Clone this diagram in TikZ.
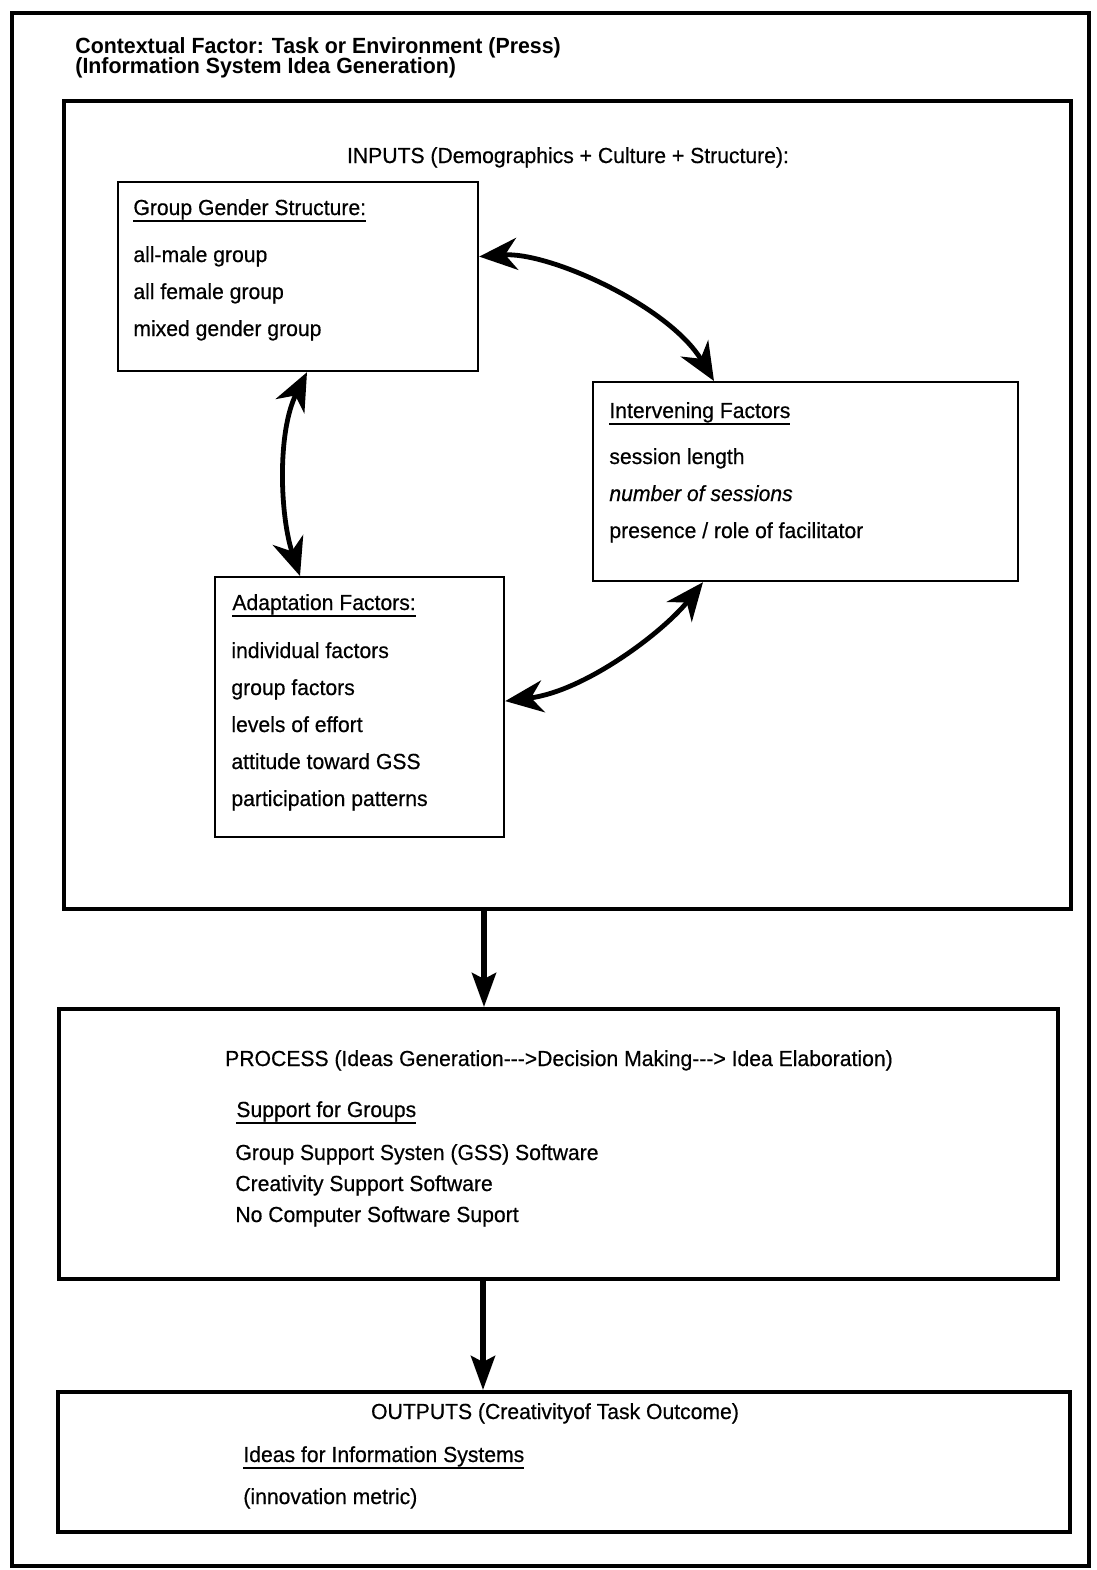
\documentclass[tikz,border=0pt]{standalone}
\usepackage{fontspec}
\setmainfont{Liberation Sans}[FakeStretch=0.97,FakeBold=0.5]
\newfontfamily\headfont{Liberation Sans}[FakeStretch=0.97]
\usepackage{tikz}
\usetikzlibrary{arrows.meta,positioning}

\newcommand{\ulhead}[1]{\setbox0=\hbox{#1}\rlap{\rule[-3.4pt]{\wd0}{1pt}}\box0}

\begin{document}
\begin{tikzpicture}[x=0.5pt,y=-0.5pt,
    every node/.style={font=\fontsize{10.9}{12}\selectfont},
    item/.style={anchor=base west,inner sep=0pt},
    heading/.style={anchor=base,inner sep=0pt},
    bigbox/.style={draw,line width=2.2pt,anchor=north west,inner sep=0pt},
    factorbox/.style={draw,line width=1.1pt,anchor=north west,inner sep=0pt},
    twoway/.style={line width=2.4pt,{Stealth[length=19pt,width=16pt,inset=6pt]}-{Stealth[length=19pt,width=16pt,inset=6pt]}},
    oneway/.style={line width=2.8pt,-{Stealth[length=17pt,width=12pt,inset=3pt]}}]
  \useasboundingbox (0,0) rectangle (1097,1570);
  \draw[line width=1.8pt] (12,13) rectangle (1089,1566);

  % context
  \node[item,font=\headfont\fontsize{11}{11}\bfseries] (head1) at (75,53) {Contextual Factor: Task or Environment (Press)};
  \node[item,font=\headfont\fontsize{11}{11}\bfseries] (head2) at (75,73) {(Information System Idea Generation)};

  % inputs
  \node[bigbox,minimum width=503.5pt,minimum height=404pt] (inputs) at (62,99) {};
  \node[heading] (intitle) at (568,163) {INPUTS (Demographics + Culture + Structure):};

  \node[factorbox,minimum width=180pt,minimum height=94.5pt] (group) at (117,181) {};
  \node[item] (g0) at (133,215) {\ulhead{Group Gender Structure:}};
  \foreach \t [count=\i] in {all-male group, all female group, mixed gender group}
    \node[item] (g\i) at (133,{225+37*\i}) {\t};

  \node[factorbox,minimum width=212.5pt,minimum height=99.5pt] (interv) at (592,381) {};
  \node[item] (v0) at (609,418) {\ulhead{Intervening Factors}};
  \foreach \t [count=\i] in {session length, \textit{number of sessions}, presence / role of facilitator}
    \node[item] (v\i) at (609,{427+37*\i}) {\t};

  \node[factorbox,minimum width=144.5pt,minimum height=130pt] (adapt) at (214,576) {};
  \node[item] (a0) at (232,610) {\ulhead{Adaptation Factors:}};
  \foreach \t [count=\i] in {individual factors, group factors, levels of effort, attitude toward GSS, participation patterns}
    \node[item] (a\i) at (231,{621+37*\i}) {\t};

  \draw[twoway] ([yshift=10pt]group.east) .. controls +(70,-5) and +(-45,-75) .. ([xshift=61pt]interv.north west);
  \draw[twoway] ([yshift=3pt]adapt.east) .. controls +(80,-10) and +(-40,50) .. ([xshift=55.5pt]interv.south west);
  \draw[twoway] ([xshift=95pt]group.south west) .. controls +(-30,60) and +(-20,-60) .. ([xshift=43pt]adapt.north west);

  % process
  \node[bigbox,minimum width=499.5pt,minimum height=135pt] (process) at (57,1007) {};
  \node[heading] (proctitle) at (559,1066) {PROCESS (Ideas Generation{-}{-}{-}>Decision Making{-}{-}{-}> Idea Elaboration)};
  \node[item] (s0) at (236,1117) {\ulhead{Support for Groups}};
  \foreach \t [count=\i] in {Group Support Systen (GSS) Software, Creativity Support Software, No Computer Software Suport}
    \node[item] (s\i) at (235,{1129+31*\i}) {\t};

  % outputs
  \node[bigbox,minimum width=506pt,minimum height=70pt] (outputs) at (56,1390) {};
  \node[heading] (outtitle) at (555,1419) {OUTPUTS (Creativityof Task Outcome)};
  \node[item] (o1) at (243,1462) {\ulhead{Ideas for Information Systems}};
  \node[item] (o2) at (243,1504) {(innovation metric)};

  \draw[oneway] ([xshift=211pt]inputs.south west) -- ([xshift=211pt]inputs.south west |- process.north);
  \draw[oneway] ([xshift=213pt]process.south west) -- ([xshift=213pt]process.south west |- outputs.north);
\end{tikzpicture}
\end{document}
